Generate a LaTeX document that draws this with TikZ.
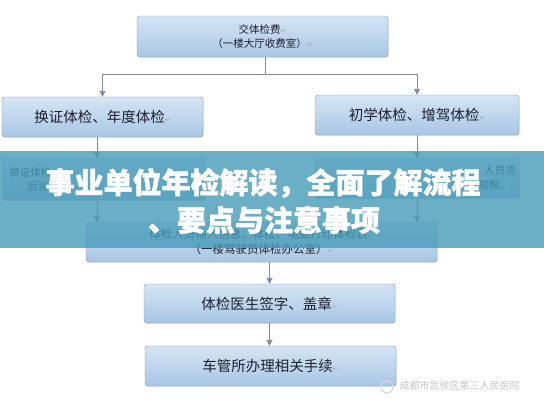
\documentclass[tikz,border=0pt]{standalone}
\usepackage{fontspec}
\usepackage{xcolor}
\usepackage{tikz}
\usetikzlibrary{arrows.meta,shadows}
\newfontfamily\cjk{Noto Sans CJK SC}
\newfontfamily\cjkheavy{Noto Sans CJK SC}[BoldFeatures={FakeBold=1.6}]
\newfontfamily\symfont{DejaVu Sans}
\definecolor{boxtop}{RGB}{212,229,245}
\definecolor{boxbottom}{RGB}{168,198,228}
\definecolor{boxline}{RGB}{128,150,178}
\definecolor{ink}{RGB}{30,32,48}
\definecolor{wire}{RGB}{128,140,158}
\definecolor{banner}{RGB}{70,155,185}
\newcommand{\retmark}{{\symfont\color{gray!70}\fontsize{7}{8}\selectfont ↵}}
\tikzset{
  stepbox/.style={
    draw=boxline,
    rounded corners=3pt,
    top color=boxtop,
    bottom color=boxbottom,
    drop shadow={shadow xshift=1pt, shadow yshift=-1.2pt, opacity=0.18},
    align=center,
    inner sep=2pt,
    text=ink
  },
  bigtext/.style={
    font=\cjk\fontsize{14.5}{17}\selectfont
  },
  smalltext/.style={
    font=\cjk\fontsize{10.5}{14}\selectfont
  },
  headtext/.style={
    font=\cjkheavy\bfseries\fontsize{29}{32}\selectfont,
    text=white
  },
  link/.style={
    -{Triangle[length=6pt,width=6pt]},
    line width=0.9pt,
    wire
  }
}

\begin{document}
\begin{tikzpicture}[x=1pt,y=-1pt]
\useasboundingbox[fill=white] (0,0) rectangle (544,400);

\node[stepbox, smalltext, minimum width=251pt, minimum height=41pt] (fee) at (262.5,36.5) {
交体检费\retmark\\
（一楼大厅收费室）\retmark
};

\node[stepbox, bigtext, minimum width=201pt, minimum height=40pt] (renew) at (102.5,117) {
换证体检、年度体检\retmark
};

\node[stepbox, bigtext, minimum width=204pt, minimum height=40pt] (first) at (417,115) {
初学体检、增驾体检\retmark
};

\node[stepbox, minimum width=203pt, minimum height=42pt] (renewnote) at (103.5,179) {};
\node[smalltext, text=ink, anchor=west] (renewa) at (renewnote.west |- 0,172) {\hspace{4pt}换证体检};
\node[smalltext, text=ink, anchor=west] (renewb) at (renewnote.west |- 0,187) {\hspace{22pt}后当};

\node[stepbox, minimum width=204pt, minimum height=40pt] (firstnote) at (417,178) {};
\node[smalltext, text=ink, anchor=east] (firsta) at (firstnote.east |- 0,171) {人员须\hspace{6pt}};
\node[smalltext, text=ink, anchor=east] (firstb) at (firstnote.east |- 0,186) {驾照。\retmark\hspace{4pt}};

\node[stepbox, font=\cjk\fontsize{11.5}{15}\selectfont, minimum width=351pt, minimum height=40pt] (record) at (261.5,242) {
体检人员输入信息、体检、电脑打印体检表\retmark\\
（一楼驾驶员体检办公室）\retmark
};

\node[stepbox, bigtext, minimum width=251pt, minimum height=39pt] (sign) at (269.5,303.5) {
体检医生签字、盖章\retmark
};

\node[stepbox, bigtext, minimum width=251pt, minimum height=40pt] (office) at (270.5,366) {
车管所办理相关手续\retmark
};

\coordinate (split) at (265,74);
\draw[wire, line width=0.9pt] (fee.south -| split) -- (split);
\draw[link] (split) -| (renew.north);
\draw[link] (split) -| (first.north);
\draw[link] (renew.south -| 97,0) -- (renewnote.north -| 97,0);
\draw[link] (first.south) -- (firstnote.north);
\draw[link] (renewnote.south -| 97,0) -- (record.north -| 97,0);
\draw[link] (firstnote.south) -- (record.north -| firstnote.south);
\draw[link] (record.south -| sign.north) -- (sign.north);
\draw[link] (sign.south) -- (office.north -| sign.south);

% watermark
\draw[gray!30, line width=1.2pt] (387,387) circle (6);
\node[font=\cjk\fontsize{10}{12}\selectfont, text=gray!45, anchor=west] (mark) at (396,386) {成都市武侯区第三人民医院};

% banner
\fill[banner, opacity=0.8] (0,151) rectangle (544,248);
\node[headtext] (headline) at (263,183) {事业单位年检解读，全面了解流程};
\node[headtext] (subline) at (264,220) {、要点与注意事项};

\end{tikzpicture}
\end{document}
